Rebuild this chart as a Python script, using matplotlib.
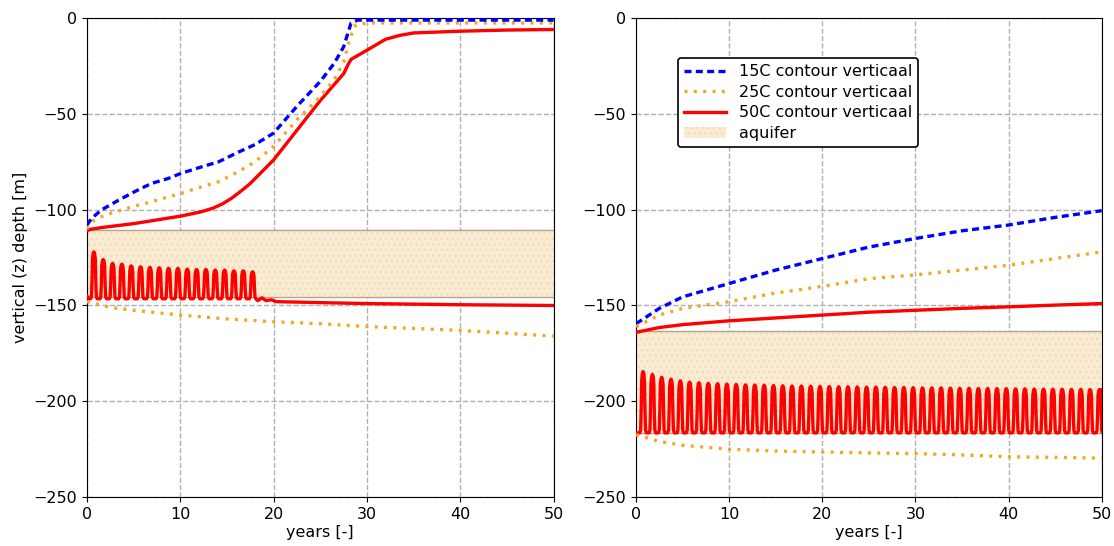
import numpy as np
import matplotlib
matplotlib.use("Agg")
import matplotlib.pyplot as plt

# ---- left panel data (years, depth in m) ----
t15_left = [0, 0.5, 1.6, 3.4, 5.1, 6.9, 8.7, 10.1, 12.3, 14.1, 16.2, 18, 20, 22.5, 25, 26.5, 27.5, 28.3, 29, 50]
z15_left = [-108, -104.5, -100, -95, -90.6, -86.3, -83.7, -81, -77.6, -75, -70, -66, -60, -46, -33, -23.5,
            -15, -2.5, -1, -1]

t25_left = [0, 0.5, 1.9, 3.7, 5.5, 6.9, 8.7, 10.1, 12.3, 14.1, 16.2, 18, 20, 22.5, 25, 26.5, 27.5, 28.2, 28.8,
            30, 50]
z25_left = [-110, -106.3, -102.8, -100.2, -97.6, -95.9, -93.3, -91.5, -88, -85.4, -80.2, -75, -67, -53, -41,
            -32, -23, -10, -3.5, -2.5, -2.5]

t50_left = [0, 0.3, 1.6, 5.1, 10.1, 12.3, 13.5, 14.5, 15.5, 16.5, 17.5, 20, 22.5, 25, 27.5, 28, 28.3, 30, 32,
            33.5, 35, 40, 45, 50]
z50_left = [-111, -110.3, -109.3, -107.2, -103.3, -101, -99.2, -97, -94, -90.3, -86.3, -74, -58.5, -43, -29,
            -24, -21.5, -16.7, -11, -9, -7.7, -6.8, -6.2, -5.9]

t25_low_left = [0, 2.5, 5, 10, 15, 20, 25, 30, 35, 40, 45, 50]
z25_low_left = [-148, -151, -152.5, -155, -157, -158.5, -159.5, -161, -162, -163, -164.5, -166]

# seasonal 50C contour: one peak per year, trough near aquifer base
peaks_left = [-122, -126, -128, -128.4, -129.3, -129.8, -130.1, -130.3, -130.6, -130.6,
              -131, -131.2, -131.2, -131.5, -131.5, -131.9, -131.9, -132.4]
trough_left = -146.5
t_tail_left = [18.3, 18.75, 19.2, 19.75, 20.3, 22, 25, 30, 35, 40, 45, 50]
z_tail_left = [-147.5, -146, -147.5, -147, -148, -148.2, -148.5, -149, -149.3, -149.6, -149.8, -150]

aquifer_left = (-145.5, -110.5)

# ---- right panel data ----
t_right = [0, 2.5, 5, 10, 15, 20, 25, 30, 35, 40, 45, 50]
z15_right = [-159.5, -151.5, -145.5, -138.5, -131.5, -125.5, -119.5, -115, -111, -108, -104, -100.5]
z25_right = [-161, -155, -151.5, -148, -143.5, -140, -136, -134, -131.5, -129, -125.5, -122]
z50_right = [-164, -161.5, -160, -158, -156.5, -155, -153.5, -152.5, -151.5, -150.7, -149.8, -149]
z25_low_right = [-217.5, -221, -223, -225, -226, -226.5, -227, -227.3, -228, -229, -229.3, -229.7]

peaks_right = [-184.5, -186, -187.5, -188.5, -189.3, -190, -190.3, -190.6, -190.8, -191,
               -191.2, -191.4, -191.5, -191.6, -191.8, -191.9, -192, -192, -192.1, -192.2,
               -192.3, -192.4, -192.4, -192.5, -192.6, -192.6, -192.7, -192.8, -192.8, -192.9,
               -193, -193, -193, -193.1, -193.2, -193.2, -193.3, -193.3, -193.4, -193.4,
               -193.5, -193.5, -193.6, -193.6, -193.7, -193.7, -193.8, -193.8, -193.9, -193.9]
trough_right = -216.5

aquifer_right = (-216.5, -163.5)

# spike shape within a yearly cycle (offset from peak time, fraction of peak height)
spike_dt = [-0.5, -0.35, -0.26, -0.2, -0.15, -0.08, 0.0, 0.08, 0.15, 0.2, 0.26, 0.35]
spike_w = [0, 0, 0.05, 0.4, 0.85, 0.97, 1, 0.97, 0.85, 0.4, 0.05, 0]


def seasonal(peaks, trough, t_peak=0.75):
    t, z = [], []
    for k, p in enumerate(peaks):
        for dt, w in zip(spike_dt, spike_w):
            t.append(k + t_peak + dt)
            z.append(trough + w * (p - trough))
    return t, z


band_fc = "#f9ecd3"
band_hatch = "#efdcbb"
band_edge = "#b3a58e"


def style_axes(ax):
    ax.set_xlim(0, 50)
    ax.set_ylim(-250, 0)
    ax.set_xticks([0, 10, 20, 30, 40, 50])
    ax.set_yticks([0, -50, -100, -150, -200, -250])
    ax.grid(True, color="#b0b0b0", linestyle="--", linewidth=1)
    ax.set_axisbelow(True)
    ax.tick_params(labelsize=11.5)
    ax.set_xlabel("years [-]", fontsize=11.5, labelpad=2)


def aquifer(ax, bounds, label=None):
    ax.fill_between([0, 50], bounds[0], bounds[1], facecolor=band_fc, edgecolor=band_hatch,
                    hatch="...", linewidth=0, label=label, zorder=1)
    ax.axhline(bounds[1], color=band_edge, lw=1, zorder=1.5)
    ax.axhline(bounds[0], color=band_edge, lw=1, zorder=1.5)


lw = 2.4
dash = (2.1, 1.3)
dot = (0.9, 1.9)
orange = "#f5a623"

fig = plt.figure(figsize=(11.14, 5.46), dpi=100)
ax1 = fig.add_axes([0.078, 0.0897, 0.419, 0.877])
ax2 = fig.add_axes([0.571, 0.0897, 0.418, 0.877])

# left
aquifer(ax1, aquifer_left)
ts, zs = seasonal(peaks_left, trough_left)
ax1.plot([0] + ts + t_tail_left, [-145] + zs + z_tail_left, color="red", lw=lw, zorder=3)
ax1.plot(t50_left, z50_left, color="red", lw=lw, zorder=3)
ax1.plot(t25_low_left, z25_low_left, color=orange, lw=lw, dashes=dot, zorder=3)
ax1.plot(t25_left, z25_left, color=orange, lw=lw, dashes=dot, zorder=3)
ax1.plot(t15_left, z15_left, color="blue", lw=lw, dashes=dash, zorder=3)
style_axes(ax1)
ax1.set_ylabel("vertical (z) depth [m]", fontsize=11.5)

# right
aquifer(ax2, aquifer_right, label="aquifer")
ts, zs = seasonal(peaks_right, trough_right)
ax2.plot([0] + ts + [50], [trough_right] + zs + [-194], color="red", lw=lw, zorder=3)
ax2.plot(t_right, z15_right, color="blue", lw=lw, dashes=dash, zorder=3, label="15C contour verticaal")
ax2.plot(t_right, z25_right, color=orange, lw=lw, dashes=dot, zorder=3, label="25C contour verticaal")
ax2.plot(t_right, z50_right, color="red", lw=lw, zorder=3, label="50C contour verticaal")
ax2.plot(t_right, z25_low_right, color=orange, lw=lw, dashes=dot, zorder=3)
style_axes(ax2)

handles, labels = ax2.get_legend_handles_labels()
order = [1, 2, 3, 0]
leg = ax2.legend([handles[i] for i in order], [labels[i] for i in order],
                 loc="upper left", bbox_to_anchor=(0.09, 0.917), fontsize=11.5,
                 framealpha=1, edgecolor="black", fancybox=True, handlelength=2.6,
                 borderaxespad=0, labelspacing=0.35)
leg.get_frame().set_linewidth(1.2)

fig.savefig("out.png", dpi=100)
